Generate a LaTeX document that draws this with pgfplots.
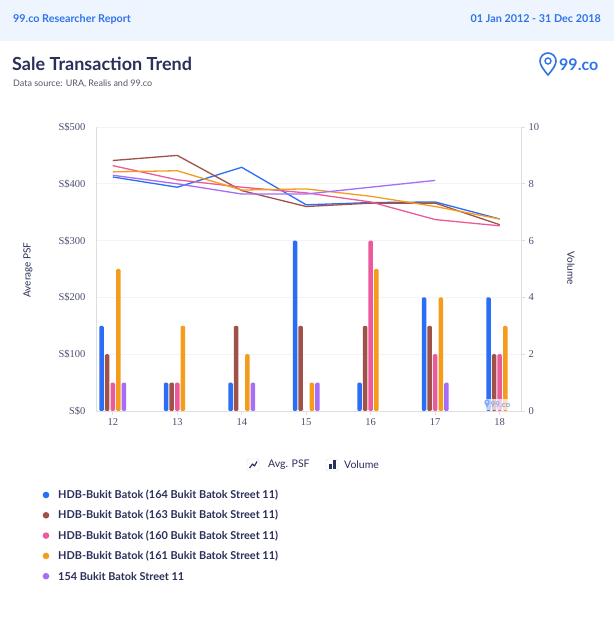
\documentclass[border=0pt]{standalone}
\usepackage{fontspec}
\setmainfont{Lato}
\newfontfamily\serifnum{Liberation Serif}
\usepackage{pgfplots}
\pgfplotsset{compat=1.18}
\definecolor{cblue}{HTML}{2A6EF5}
\definecolor{cbrown}{HTML}{A0524A}
\definecolor{cpink}{HTML}{EC5A9C}
\definecolor{corange}{HTML}{F59C1C}
\definecolor{cpurple}{HTML}{A66EF6}
\definecolor{navy}{HTML}{2B2F5A}
\definecolor{ticktxt}{HTML}{4B5070}
\definecolor{hdrbg}{HTML}{EEF5FF}
\definecolor{hdrblue}{HTML}{2F74E8}
\definecolor{axisgray}{HTML}{DDDDE4}
\definecolor{gridgray}{HTML}{F3F3F6}
\definecolor{subgray}{HTML}{555866}
\begin{document}
\begin{tikzpicture}[x=1pt,y=1pt]
\fill[white] (0,0) rectangle (614,630);
\fill[hdrbg] (0,589) rectangle (614,630);
\node[anchor=west,text=hdrblue,font=\bfseries\fontsize{10.8}{12}\selectfont,inner sep=0] at (13,611) {99.co Researcher Report};
\node[anchor=east,text=hdrblue,font=\bfseries\fontsize{10.8}{12}\selectfont,inner sep=0] at (601,611) {01 Jan 2012 - 31 Dec 2018};
\node[anchor=west,text=navy,font=\bfseries\fontsize{18}{20}\selectfont,inner sep=0] at (12,566) {Sale Transaction Trend};
\node[anchor=west,text=subgray,font=\fontsize{9}{10}\selectfont,inner sep=0] at (13,546) {Data source: URA, Realis and 99.co};
% logo
\draw[hdrblue,line width=1.6pt,line join=round] (548,555) .. controls (543,561) and (540,565) .. (540,569) arc[start angle=180,end angle=0,radius=8] .. controls (556,565) and (553,561) .. cycle;
\draw[hdrblue,line width=1.4pt] (548,569) circle (3);
\node[anchor=west,text=hdrblue,font=\bfseries\fontsize{16}{18}\selectfont,inner sep=0] at (559,565) {99.co};

\begin{axis}[
  at={(96pt,219pt)}, anchor=south west, scale only axis,
  width=425pt, height=284pt,
  xmin=11.74, xmax=18.33, ymin=0, ymax=10,
  axis y line*=right, axis x line*=bottom,
  axis line style={-,draw=axisgray,line width=0.8pt},
  xtick={12,13,14,15,16,17,18},
  xticklabels={12,13,14,15,16,17,18},
  ytick={0,2,4,6,8,10},
  yticklabels={0,2,4,6,8,10},
  tick align=outside, major tick length=4pt,
  tick style={draw=axisgray,line width=0.8pt},
  ticklabel style={font=\serifnum\fontsize{10.5}{12}\selectfont,text=ticktxt},
  ymajorgrids, grid style={gridgray,line width=0.6pt},
  ybar=1.1pt, bar width=4.5pt,
  every axis plot/.append style={draw=none,rounded corners=1.3pt},
  clip=false,
]
\addplot[fill=cblue] coordinates {(12,3)(13,1)(14,1)(15,6)(16,1)(17,4)(18,4)};
\addplot[fill=cbrown] coordinates {(12,2)(13,1)(14,3)(15,3)(16,3)(17,3)(18,2)};
\addplot[fill=cpink] coordinates {(12,1)(13,1)(16,6)(17,2)(18,2)};
\addplot[fill=corange] coordinates {(12,5)(13,3)(14,2)(15,1)(16,5)(17,4)(18,3)};
\addplot[fill=cpurple] coordinates {(12,1)(14,1)(15,1)(17,1)};
\end{axis}

\begin{axis}[
  at={(96pt,219pt)}, anchor=south west, scale only axis,
  width=425pt, height=284pt,
  xmin=11.74, xmax=18.33, ymin=0, ymax=500,
  axis y line*=left, axis x line=none,
  axis line style={-,draw=axisgray,line width=0.8pt},
  ytick={0,100,200,300,400,500},
  yticklabels={S\$0,S\$100,S\$200,S\$300,S\$400,S\$500},
  major tick length=0pt,
  ticklabel style={font=\serifnum\fontsize{10.5}{12}\selectfont,text=ticktxt},
  yticklabel style={xshift=-7pt},
  every axis plot/.append style={line width=1.3pt,no marks,line join=round},
]
\addplot[cblue] coordinates {(12,412)(13,394)(14,429)(15,363)(16,367)(17,368)(18,338)};
\addplot[cbrown] coordinates {(12,441)(13,450)(14,388)(15,360)(16,366)(17,366)(18,328)};
\addplot[cpink] coordinates {(12,432)(13,407)(14,394)(15,384)(16,368)(17,337)(18,326)};
\addplot[corange] coordinates {(12,421)(13,423)(14,389)(15,391)(16,378)(17,360)(18,338)};
\addplot[cpurple] coordinates {(12,415)(13,400)(14,382)(15,382)(16,394)(17,406)};
\end{axis}

% watermark
\fill[white,opacity=0.7] (481,219.5) rectangle (514,231);
\fill[hdrblue!60] (487,228) circle (2.6);
\fill[hdrblue!60] (484.6,227) -- (487,222) -- (489.4,227) -- cycle;
\fill[white] (487,228) circle (0.9);
\node[anchor=west,text=hdrblue!60,font=\bfseries\fontsize{8}{9}\selectfont,inner sep=0] at (490.5,225.5) {99.co};

% axis titles
\node[rotate=90,text=navy,font=\fontsize{10}{11}\selectfont] at (28,360) {Average PSF};
\node[rotate=-90,text=navy,font=\fontsize{10}{11}\selectfont] at (571,362) {Volume};

% type legend
\draw[axisgray,rounded corners=1.5pt] (247,159) rectangle (259,171);
\draw[navy,line width=1.1pt,line join=round] (249.5,162) -- (252.5,166) -- (254.5,164) -- (257,168.5);
\node[anchor=west,text=navy,font=\fontsize{10.5}{12}\selectfont,inner sep=0] at (268,165) {Avg. PSF};
\draw[axisgray,rounded corners=1.5pt] (326,159) rectangle (338,171);
\fill[navy] (329,161) rectangle (331.5,166);
\fill[navy] (333,161) rectangle (335.5,169.5);
\node[anchor=west,text=navy,font=\fontsize{10.5}{12}\selectfont,inner sep=0] at (344,165) {Volume};

% series legend
\foreach \c/\t [count=\i] in {cblue/{HDB-Bukit Batok (164 Bukit Batok Street 11)},
  cbrown/{HDB-Bukit Batok (163 Bukit Batok Street 11)},
  cpink/{HDB-Bukit Batok (160 Bukit Batok Street 11)},
  corange/{HDB-Bukit Batok (161 Bukit Batok Street 11)},
  cpurple/{154 Bukit Batok Street 11}} {
  \fill[\c] (46,{135-20.3*(\i-1)}) circle (3.3);
  \node[anchor=west,text=navy,font=\bfseries\fontsize{10.9}{12}\selectfont,inner sep=0] at (58,{135-20.3*(\i-1)}) {\t};
}
\end{tikzpicture}
\end{document}
